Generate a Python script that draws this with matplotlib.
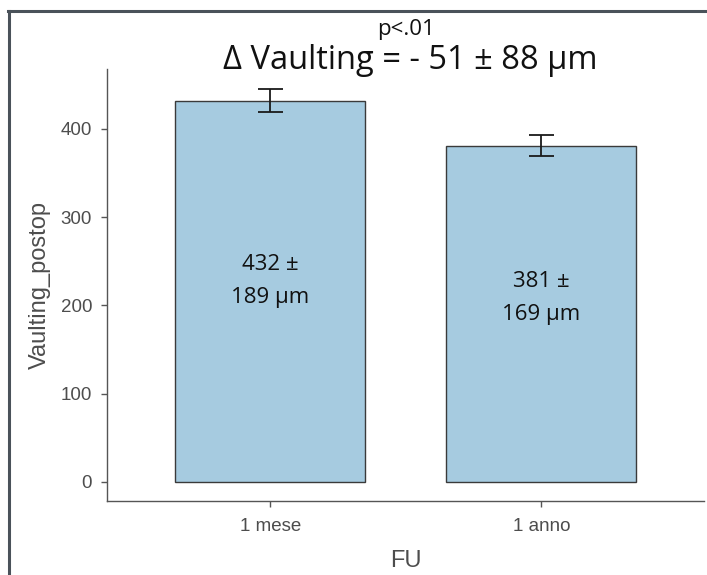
import numpy as np
import matplotlib.pyplot as plt
from matplotlib.lines import Line2D

# dati
categories = ['1 mese', '1 anno']
means = [432, 381]
errors = [13, 12]
bar_labels = ['432 ±\n189 µm', '381 ±\n169 µm']
label_y = [228, 208]

fig = plt.figure(figsize=(7.07, 5.75), dpi=100)
ax = fig.add_axes([0.152, 0.1287, 0.8438, 0.7513])

x = np.arange(len(categories))
ax.bar(x, means, width=0.7, color='#a6cbe0', edgecolor='#3a3a3a', linewidth=1.0, zorder=2)
ax.errorbar(x, means, yerr=errors, fmt='none', ecolor='#1a1a1a', elinewidth=1.3,
            capsize=9, capthick=1.3, zorder=3)

for xi, yi, t in zip(x, label_y, bar_labels):
    ax.text(xi, yi, t, ha='center', va='center', fontsize=16, family=['Open Sans', 'DejaVu Sans'],
            color='#111111', linespacing=1.75, zorder=4)

ax.set_xlim(-0.6, 1.6)
ax.set_ylim(-21.9, 468)
ax.set_xticks(x)
ax.set_xticklabels(categories)
ax.set_yticks([0, 100, 200, 300, 400])

for s in ['top', 'right']:
    ax.spines[s].set_visible(False)
for s in ['left', 'bottom']:
    ax.spines[s].set_color('#555555')
    ax.spines[s].set_linewidth(1.0)

lab_font = ['Liberation Sans', 'DejaVu Sans']
ax.tick_params(colors='#555555', length=4, width=1.0, labelsize=13.5, labelcolor='#4d4d4d')
for lab in ax.get_xticklabels() + ax.get_yticklabels():
    lab.set_family(lab_font)
ax.tick_params(axis='x', pad=8)
ax.tick_params(axis='y', pad=7)

ax.set_xlabel('FU', fontsize=17, color='#4d4d4d', family=lab_font)
ax.set_ylabel('Vaulting_postop', fontsize=17, color='#4d4d4d', family=lab_font)
ax.xaxis.set_label_coords(0.5, -0.139)
ax.yaxis.set_label_coords(-0.095, 0.5)
ax.xaxis.label.set_va('center')

fig.text(0.574, 0.949, 'p<.01', ha='center', va='center', fontsize=16,
         family=['Open Sans', 'DejaVu Sans'], color='#111111')
fig.text(0.58, 0.895, 'Δ Vaulting = - 51 ± 88 µm', ha='center', va='center', fontsize=23.5,
         family=['Open Sans', 'DejaVu Sans'], weight='medium', color='#111111')

# cornice dello screenshot
fig.add_artist(Line2D([8 / 707, 1], [1 - 11 / 575, 1 - 11 / 575], color='#4a525a', lw=2.2,
                      transform=fig.transFigure))
fig.add_artist(Line2D([9 / 707, 9 / 707], [0, 1 - 11 / 575], color='#4a525a', lw=2.2,
                      transform=fig.transFigure))

fig.savefig('out.png', dpi=100)
